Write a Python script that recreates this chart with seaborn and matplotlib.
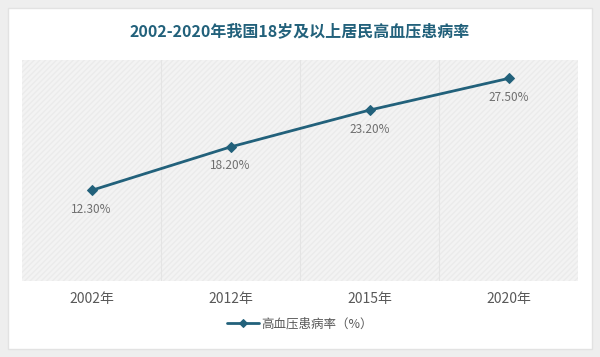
import pandas as pd
import matplotlib.pyplot as plt
import matplotlib.patches as mpatches
import seaborn as sns

# data
years = ['2002年', '2012年', '2015年', '2020年']
rates = [12.3, 18.2, 23.2, 27.5]
series_name = '高血压患病率（%）'
title = '2002-2020年我国18岁及以上居民高血压患病率'

df = pd.DataFrame({'year': years, 'rate': rates})

sns.set_style('white')
plt.rcParams['font.family'] = ['Noto Sans CJK SC', 'DejaVu Sans']

line_color = '#22617b'

fig = plt.figure(figsize=(6, 3.57), dpi=100)
fig.patch.set_facecolor('#eeeeee')
# white card behind everything
fig.patches.append(mpatches.Rectangle((8 / 600, 8 / 357), 584 / 600, 341 / 357,
                                      transform=fig.transFigure, facecolor='white',
                                      edgecolor='#e2e2e2', lw=1, zorder=-10))

ax = fig.add_axes([22 / 600, 76 / 357, 556 / 600, 221 / 357])
ax.set_facecolor('#f3f3f3')
ax.add_patch(mpatches.Rectangle((0, 0), 1, 1, transform=ax.transAxes, fill=False,
                                hatch='//////', edgecolor='#ebebeb', lw=0, zorder=0))

sns.lineplot(data=df, x='year', y='rate', ax=ax, color=line_color, lw=2,
             marker='D', markersize=5, markeredgecolor=line_color, label=series_name,
             sort=False)

ax.set_xlim(-0.5, 3.5)
ax.set_ylim(0, 30)
for b in [0.5, 1.5, 2.5]:
    ax.axvline(b, color='#e4e4e4', lw=0.8, zorder=0)

for i, v in enumerate(rates):
    ax.annotate(f'{v:.2f}%', (i, v), xytext=(0, -9), textcoords='offset points',
                ha='center', va='top', fontsize=8.5, color='#6f6f6f')

ax.set_yticks([])
ax.set_xlabel('')
ax.set_ylabel('')
ax.tick_params(axis='x', length=0, pad=8, labelsize=10, labelcolor='#595959')
for s in ax.spines.values():
    s.set_visible(False)

leg = ax.legend(loc='upper center', bbox_to_anchor=(0.5, -0.115), frameon=False,
                fontsize=9, handlelength=2.5, handletextpad=0.2, markerscale=0.8)
for t in leg.get_texts():
    t.set_color('#595959')

fig.text(0.5, 1 - 31 / 357, title, ha='center', va='center', fontsize=11.5,
         fontweight='bold', color='#22617b')

fig.savefig('out.png', dpi=100)
